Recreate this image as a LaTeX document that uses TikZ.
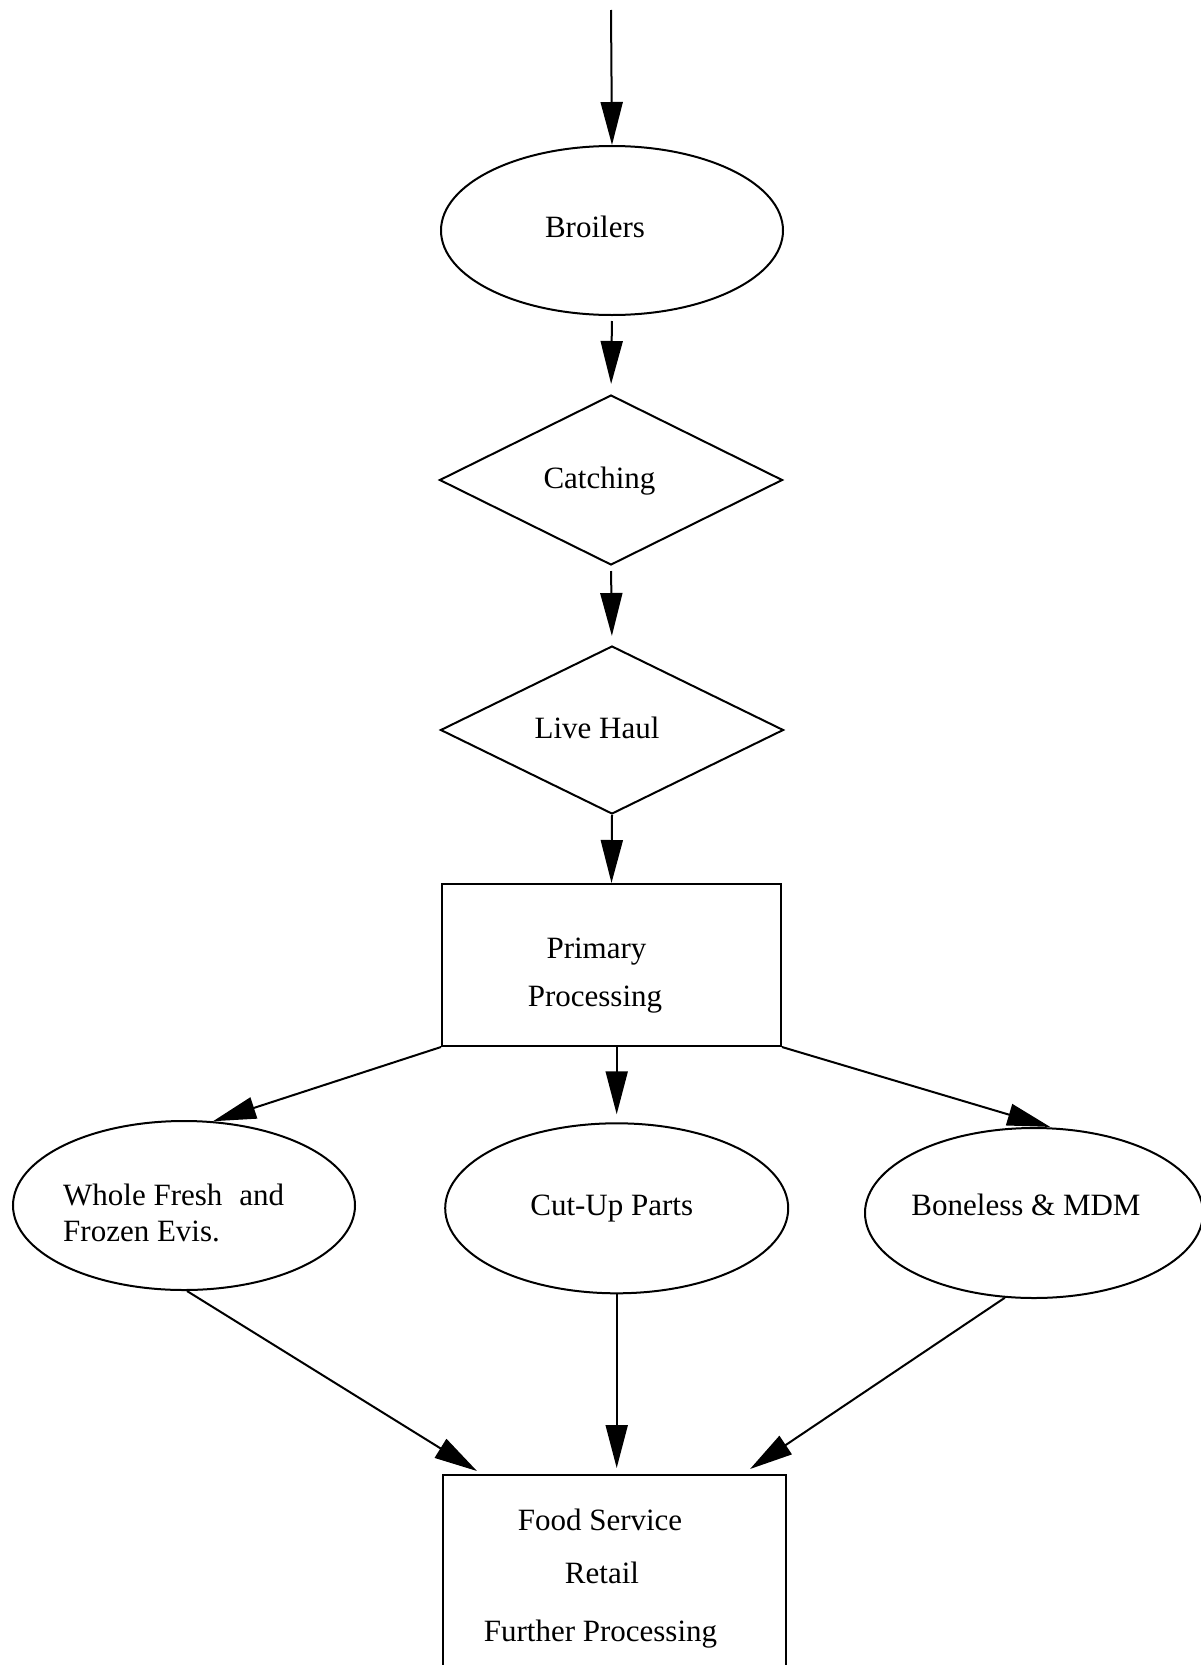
\documentclass[tikz,border=0pt]{standalone}
\usepackage{fontspec}
\setmainfont{Liberation Serif}
\usetikzlibrary{shapes.geometric,arrows.meta,calc}

\begin{document}
\begin{tikzpicture}[x=1pt,y=-1pt,
  shapeline/.style={draw=black, line width=2pt},
  oval/.style={shapeline, ellipse, inner sep=0pt, minimum width=342pt, minimum height=169pt},
  rhomb/.style={shapeline, diamond, inner sep=0pt, minimum width=343pt, minimum height=169pt},
  panel/.style={shapeline, rectangle, inner sep=0pt},
  lbl/.style={font=\fontsize{31}{37}\selectfont, inner sep=0pt, anchor=base},
  flow/.style={line width=2pt, -{Triangle[length=43pt,width=22pt]}},
]
% page frame
\useasboundingbox (0,0) rectangle (1201,1665);
\fill[white] (0,0) rectangle (1201,1665);
\clip (0,0) rectangle (1201,1665);

% main chain
\node[oval] (broilers) at (612,230.5) {};
\node[lbl] (tbroilers) at (595,237) {Broilers};

\node[rhomb, minimum height=170pt] (catching) at (611,480) {};
\node[lbl] (tcatching) at (599.5,488) {Catching};

\node[rhomb, minimum height=168pt] (livehaul) at (612,730) {};
\node[lbl] (tlivehaul) at (597,738) {Live Haul};

\node[panel, minimum width=339pt, minimum height=162pt] (primary) at (611.5,965) {};
\node[lbl] (tprimary1) at (596.5,958) {Primary};
\node[lbl] (tprimary2) at (595,1006.5) {Processing};

% product branches
\node[oval] (whole) at (184,1205.5) {};
\node[lbl, anchor=base west] (twhole1) at (63,1205.5) {Whole Fresh\hspace{17pt}and};
\node[lbl, anchor=base west] (twhole2) at (63,1241.7) {Frozen Evis.};

\node[oval, minimum width=343pt, minimum height=170pt] (cutup) at (616.7,1208.3) {};
\node[lbl] (tcutup) at (611.7,1215) {Cut-Up Parts};

\node[oval, minimum width=338pt, minimum height=170pt] (boneless) at (1034,1213) {};
\node[lbl] (tboneless) at (1026,1215) {Boneless \& MDM};

% outlets
\node[panel, minimum width=343pt, minimum height=260pt, anchor=north] (final) at (614.5,1474) {};
\node[lbl] (tfinal1) at (600,1530) {Food Service};
\node[lbl] (tfinal2) at (602,1583.3) {Retail};
\node[lbl] (tfinal3) at (600.5,1641.7) {Further Processing};

% connectors
\coordinate (entry) at (611,10);
\draw[flow] (entry) -- (broilers.north);
\draw[flow, shorten <=5pt, shorten >=10pt] (broilers.south) -- (catching.north);
\draw[flow, shorten <=5pt, shorten >=9pt] (catching.south) -- (livehaul.north);
\draw[flow] (livehaul.south) -- (primary.north);
\draw[flow, shorten >=8pt] (primary.south -| cutup.north) -- (cutup.north);
\draw[flow] (primary.south west) -- (whole.71);
\draw[flow, shorten >=2pt] (primary.south east) -- (boneless.78);
\draw[flow] (whole.272) -- ($(final.north west)+(35,-3)$);
\draw[flow, shorten >=6pt] (cutup.south) -- (cutup.south |- final.north);
\draw[flow] (boneless.251) -- ($(final.north east)+(-37,-5)$);
\end{tikzpicture}
\end{document}
